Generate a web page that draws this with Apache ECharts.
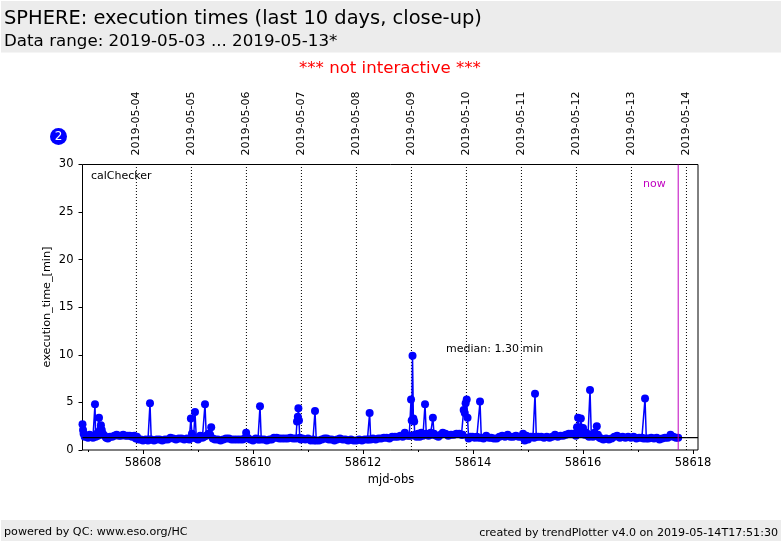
<!DOCTYPE html>
<html><head><meta charset="utf-8">
<script src="https://cdn.jsdelivr.net/npm/echarts@6/dist/echarts.min.js"></script>
<style>html,body{margin:0;padding:0;background:#fff}#c{width:782px;height:542px}</style>
</head><body><div id="c"></div>
<script>
const mjdObs = [
58606.90,58606.91,58606.92,58606.94,58606.97,58607.00,58607.03,58607.06,58607.09,58607.11,
58607.127,58607.14,58607.16,58607.18,58607.20,58607.21,58607.235,58607.25,58607.27,58607.30,
58607.33,58607.36,58607.40,58607.44,58607.48,58607.52,58607.56,58607.60,58607.64,58607.68,
58607.72,58607.76,58607.80,58607.84,58607.87,58607.89,58607.92,58607.96,58608.00,58608.05,
58608.09,58608.11,58608.127,58608.15,58608.20,58608.25,58608.30,58608.35,58608.40,58608.45,
58608.50,58608.55,58608.60,58608.65,58608.70,58608.75,58608.80,58608.84,58608.87,58608.89,
58608.92,58608.945,58608.97,58609.00,58609.04,58609.08,58609.11,58609.127,58609.15,58609.19,
58609.22,58609.24,58609.27,58609.31,58609.36,58609.41,58609.46,58609.51,58609.56,58609.61,
58609.66,58609.71,58609.76,58609.81,58609.85,58609.875,58609.90,58609.95,58610.00,58610.05,
58610.09,58610.11,58610.127,58610.15,58610.20,58610.25,58610.30,58610.34,58610.38,58610.43,
58610.48,58610.53,58610.58,58610.63,58610.68,58610.73,58610.78,58610.80,58610.815,58610.825,
58610.835,58610.85,58610.87,58610.90,58610.95,58611.00,58611.05,58611.09,58611.11,58611.127,
58611.15,58611.20,58611.25,58611.30,58611.34,58611.38,58611.43,58611.48,58611.53,58611.58,
58611.63,58611.68,58611.73,58611.78,58611.83,58611.88,58611.93,58611.98,58612.03,58612.08,
58612.10,58612.12,58612.14,58612.18,58612.23,58612.28,58612.33,58612.38,58612.43,58612.48,
58612.53,58612.58,58612.63,58612.68,58612.72,58612.76,58612.80,58612.84,58612.865,58612.873,
58612.885,58612.90,58612.915,58612.93,58612.94,58612.97,58613.00,58613.03,58613.06,58613.09,
58613.11,58613.127,58613.15,58613.19,58613.23,58613.26,58613.27,58613.29,58613.33,58613.37,
58613.41,58613.45,58613.50,58613.55,58613.60,58613.65,58613.70,58613.75,58613.79,58613.81,
58613.83,58613.85,58613.865,58613.885,58613.90,58613.92,58613.95,58613.99,58614.03,58614.07,
58614.10,58614.127,58614.15,58614.19,58614.24,58614.29,58614.33,58614.38,58614.43,58614.48,
58614.53,58614.58,58614.63,58614.68,58614.73,58614.78,58614.83,58614.88,58614.91,58614.94,
58614.97,58615.00,58615.05,58615.09,58615.11,58615.127,58615.15,58615.19,58615.24,58615.29,
58615.34,58615.39,58615.44,58615.49,58615.54,58615.59,58615.64,58615.69,58615.74,58615.79,
58615.84,58615.87,58615.89,58615.91,58615.93,58615.95,58615.96,58615.985,58616.00,58616.03,
58616.06,58616.09,58616.11,58616.127,58616.15,58616.18,58616.21,58616.23,58616.25,58616.27,
58616.30,58616.33,58616.37,58616.42,58616.47,58616.52,58616.57,58616.62,58616.67,58616.72,
58616.77,58616.82,58616.87,58616.92,58616.97,58617.02,58617.07,58617.10,58617.127,58617.15,
58617.19,58617.24,58617.29,58617.34,58617.39,58617.44,58617.49,58617.54,58617.59,58617.64,
58617.69,58617.73
];
const execMin = [
2.7,2.1,1.7,1.4,1.5,1.3,1.6,1.5,1.3,1.4,
4.8,1.4,1.7,1.5,3.4,2.0,2.6,2.1,1.7,1.5,
1.3,1.2,1.4,1.4,1.5,1.6,1.5,1.5,1.6,1.5,
1.5,1.5,1.4,1.5,1.2,1.4,1.1,1.1,1.0,1.1,
1.0,1.1,4.9,1.1,1.0,1.1,1.1,1.0,1.1,1.1,
1.3,1.2,1.1,1.2,1.2,1.1,1.2,1.1,3.3,1.7,
1.3,4.0,1.2,1.1,1.5,1.3,1.4,4.8,1.5,1.7,
1.6,2.4,1.2,1.1,1.1,1.0,1.1,1.2,1.2,1.1,
1.1,1.1,1.1,1.1,1.2,1.8,1.3,1.1,1.0,1.2,
1.1,1.1,4.6,1.1,1.1,1.0,1.1,1.1,1.3,1.3,
1.2,1.2,1.2,1.2,1.3,1.2,1.2,3.0,3.5,4.4,
3.1,1.3,1.1,1.2,1.1,1.2,1.0,1.1,1.0,4.1,
1.0,1.0,1.1,1.2,1.2,1.1,1.1,1.0,1.1,1.2,
1.1,1.1,1.0,1.1,1.0,1.0,1.1,1.0,1.1,1.1,
1.1,3.9,1.1,1.2,1.1,1.2,1.2,1.3,1.3,1.2,
1.4,1.4,1.4,1.5,1.4,1.8,1.5,1.5,1.5,5.3,
3.1,9.9,3.3,3.0,1.6,1.4,1.7,1.4,1.8,1.5,
1.6,4.8,1.7,1.5,1.8,1.6,3.4,1.7,1.5,1.4,
1.6,1.8,1.7,1.5,1.6,1.6,1.7,1.7,1.6,1.6,
4.2,3.9,4.9,5.3,3.4,1.2,1.4,1.4,1.3,1.4,
1.3,5.1,1.3,1.2,1.5,1.3,1.3,1.2,1.2,1.4,
1.5,1.4,1.6,1.4,1.4,1.5,1.4,1.4,1.7,1.0,
1.5,1.1,1.4,1.4,1.3,5.9,1.4,1.4,1.4,1.3,
1.4,1.3,1.4,1.6,1.4,1.5,1.5,1.6,1.7,1.7,
1.7,1.5,2.4,3.4,1.9,2.4,3.3,1.7,2.3,1.6,
1.8,1.5,1.4,6.3,1.6,1.4,1.8,1.5,2.5,1.6,
1.3,1.2,1.1,1.2,1.1,1.2,1.4,1.5,1.3,1.4,
1.3,1.4,1.3,1.4,1.2,1.3,1.3,1.2,5.4,1.2,
1.2,1.3,1.2,1.3,1.1,1.2,1.3,1.3,1.6,1.4,
1.3,1.3
];
const dateLabels = ['2019-05-04','2019-05-05','2019-05-06','2019-05-07','2019-05-08','2019-05-09','2019-05-10','2019-05-11','2019-05-12','2019-05-13','2019-05-14'];
const dateTicks = [58607.88,58608.88,58609.88,58610.88,58611.88,58612.88,58613.88,58614.88,58615.88,58616.88,58617.88];
const majorTicks = [58608,58610,58612,58614,58616,58618];
const minorTicks = [58607,58609,58611,58613,58615,58617];
const medianValue = 1.30;
const nowValue = 58617.73;
const xMin = 58606.9, xMax = 58618.09, yMin = 0, yMax = 30;

const F = 'DejaVu Sans';
const txt = (x,y,text,size,fill,extra) => ({type:'text',left:x,top:y,silent:true,z:50,
  style:Object.assign({text,fontFamily:F,fontSize:size,fill:fill||'#000'},extra||{})});
const chart = echarts.init(document.getElementById('c'),null,{renderer:'canvas'});
chart.setOption({
  animation:false,
  backgroundColor:'#fff',
  grid:{left:82.5,top:164.5,width:615.5,height:285.5,show:true,borderColor:'#000',borderWidth:1,backgroundColor:'#fff',containLabel:false},
  xAxis:[
    {type:'value',position:'bottom',min:xMin,max:xMax,gridIndex:0,
     axisLine:{show:false},splitLine:{show:false},
     axisTick:{show:true,length:4,inside:false,customValues:majorTicks,lineStyle:{color:'#000'}},
     axisLabel:{show:true,customValues:majorTicks,margin:7,color:'#000',fontFamily:F,fontSize:11.5,showMinLabel:true,showMaxLabel:true,formatter:v=>String(v)}},
    {type:'value',position:'bottom',min:xMin,max:xMax,gridIndex:0,
     axisLine:{show:false},splitLine:{show:false},
     axisTick:{show:true,length:2,customValues:minorTicks,lineStyle:{color:'#000'}},
     axisLabel:{show:false}},
    {type:'value',position:'top',min:xMin,max:xMax,gridIndex:0,
     axisLine:{show:false},splitLine:{show:false},axisTick:{show:false},
     axisLabel:{show:true,customValues:dateTicks,rotate:-90,margin:9,color:'#000',fontFamily:F,fontSize:11,
       formatter:v=>{let best=0;dateTicks.forEach((d,i)=>{if(Math.abs(d-v)<Math.abs(dateTicks[best]-v))best=i;});return dateLabels[best];}}}
  ],
  yAxis:[{type:'value',min:yMin,max:yMax,interval:5,axisLine:{show:false},splitLine:{show:false},
     axisTick:{show:true,length:4,lineStyle:{color:'#000'}},
     axisLabel:{margin:9,color:'#000',fontFamily:F,fontSize:11.5,verticalAlign:'middle',padding:[3,0,0,0]}}],
  series:[
    {type:'line',xAxisIndex:0,yAxisIndex:0,data:dateTicks.flatMap(d=>[[d,yMin],[d,yMax],[d,null]]),
     connectNulls:false,showSymbol:false,silent:true,z:1,lineStyle:{color:'#000',type:[1,2],width:1}},
    {type:'line',xAxisIndex:0,yAxisIndex:0,data:mjdObs.map((x,i)=>[x,execMin[i]]),
     showSymbol:true,showAllSymbols:true,symbol:'circle',symbolSize:8,clip:false,
     lineStyle:{color:'#0000ff',width:1.5},itemStyle:{color:'#0000ff'},silent:true,z:2},
    {type:'line',xAxisIndex:0,yAxisIndex:0,data:[[xMin,medianValue],[xMax,medianValue]],showSymbol:false,silent:true,zlevel:1,z:10,
     lineStyle:{color:'#000000',width:1.2}},
    {type:'line',xAxisIndex:0,yAxisIndex:0,data:[[nowValue,yMin],[nowValue,yMax]],showSymbol:false,silent:true,zlevel:1,z:11,
     lineStyle:{color:'#c000c0',width:1}}
  ],
  graphic:[
    {type:'rect',shape:{x:1,y:1,width:780,height:51.5},style:{fill:'#ececec'},silent:true,z:1},
    {type:'rect',shape:{x:1,y:520,width:780,height:21},style:{fill:'#ececec'},silent:true,z:1},
    txt(4,9,'SPHERE: execution times (last 10 days, close-up)',19.45),
    txt(4,33,'Data range: 2019-05-03 ... 2019-05-13*',16.7),
    txt(299,60,'*** not interactive ***',16.6,'#ff0000'),
    {type:'circle',shape:{cx:58.5,cy:136.5,r:8.5},style:{fill:'#0000ff'},silent:true,z:50},
    {type:'text',x:58.5,y:136.5,silent:true,z:51,style:{text:'2',fontFamily:F,fontSize:12,fill:'#fff',align:'center',verticalAlign:'middle'}},
    txt(91,171,'calChecker',11),
    txt(643,178.5,'now',11,'#c000c0'),
    txt(446,344,'median: 1.30 min',11),
    {type:'text',x:391,y:480,silent:true,z:50,style:{text:'mjd-obs',fontFamily:F,fontSize:11.5,fill:'#000',align:'center',verticalAlign:'middle'}},
    {type:'text',x:47,y:307,rotation:Math.PI/2,silent:true,z:50,style:{text:'execution_time_[min]',fontFamily:F,fontSize:11.2,fill:'#000',align:'center',verticalAlign:'middle'}},
    txt(4,527,'powered by QC: www.eso.org/HC',11.15),
    {type:'text',x:778,y:533.5,silent:true,z:50,style:{text:'created by trendPlotter v4.0 on 2019-05-14T17:51:30',fontFamily:F,fontSize:11.1,fill:'#000',align:'right',verticalAlign:'middle'}}
  ]
});
</script></body></html>
